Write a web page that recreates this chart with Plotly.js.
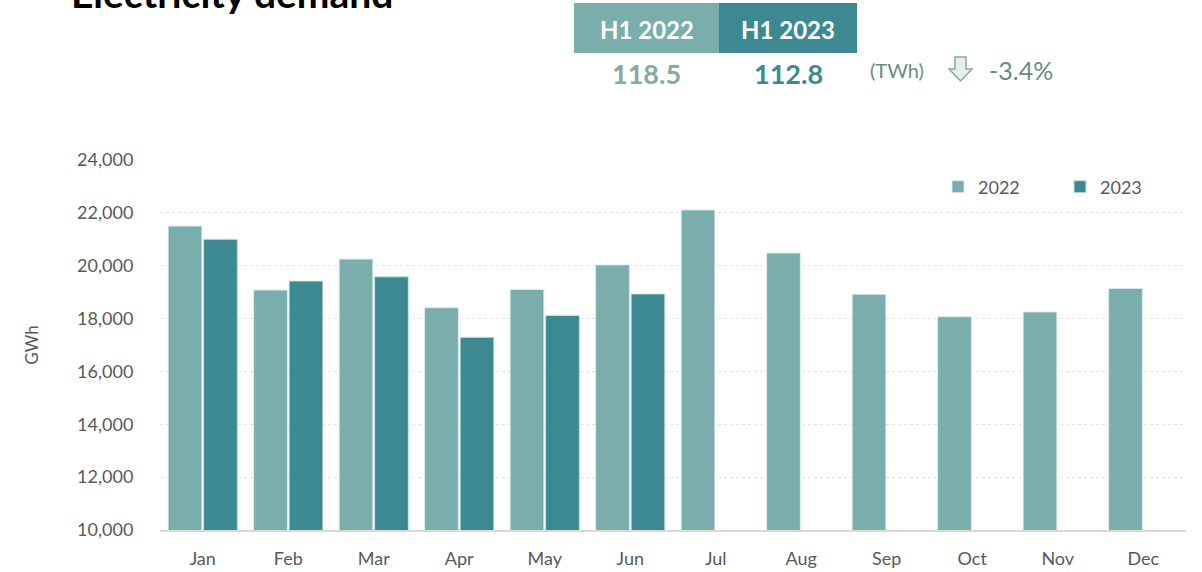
<!DOCTYPE html>
<html>
<head>
<meta charset="utf-8">
<script src="https://cdn.plot.ly/plotly-3.0.1.min.js"></script>
<style>html,body{margin:0;padding:0;background:#fff;}#chart{width:1202px;height:572px;}</style>
</head>
<body>
<div id="chart"></div>
<script>
// ---- data ----
const months = ["Jan","Feb","Mar","Apr","May","Jun","Jul","Aug","Sep","Oct","Nov","Dec"];
const demand2022 = [21500, 19080, 20250, 18410, 19100, 20030, 22110, 20480, 18920, 18070, 18250, 19140];
const demand2023 = [21000, 19420, 19580, 17290, 18120, 18930, null, null, null, null, null, null];
const seriesNames = ["2022", "2023"];
const yTicks = [10000, 12000, 14000, 16000, 18000, 20000, 22000, 24000];
const headerLabels = ["H1 2022", "H1 2023"];
const headerTotals = ["118.5", "112.8"];
const unitLabel = "(TWh)";
const changeLabel = "-3.4%";
const chartTitle = "Electricity demand";

// ---- styles ----
const C22 = "#79AEAD", C23 = "#3C8991";
const FONT = "Lato, 'Open Sans', sans-serif";
const L = 160, T = 160, W = 1026, H = 370;
const px2x = p => (p - L) / W;
const px2y = p => (T + H - p) / H;

const traces = [
  {type: "bar", name: seriesNames[0], x: months, y: demand2022,
   marker: {color: C22, line: {color: "rgba(220,235,234,0.9)", width: 1}}},
  {type: "bar", name: seriesNames[1], x: months, y: demand2023,
   marker: {color: C23, line: {color: "rgba(200,225,226,0.9)", width: 1}}}
];

const shapes = [
  {type: "rect", xref: "paper", yref: "paper", x0: px2x(574), x1: px2x(719), y0: px2y(53), y1: px2y(3),
   fillcolor: C22, line: {width: 0}},
  {type: "rect", xref: "paper", yref: "paper", x0: px2x(719), x1: px2x(857), y0: px2y(53), y1: px2y(3),
   fillcolor: C23, line: {width: 0}},
  // down arrow outline
  {type: "path", xref: "paper", yref: "paper",
   path: (() => {
     const pts = [[955,57],[966,57],[966,69],[972,69],[960.5,81],[949,69],[955,69]];
     return "M" + pts.map(p => px2x(p[0]) + "," + px2y(p[1])).join("L") + "Z";
   })(),
   fillcolor: "#E8EEEC", line: {color: "#8AA89E", width: 1.5}}
];

const annotations = [
  {text: "<b>" + chartTitle + "</b>", xref: "paper", yref: "paper", x: px2x(69), y: px2y(18),
   xanchor: "left", yanchor: "bottom", showarrow: false, font: {family: FONT, size: 39, color: "#000"}},
  {text: "<b>" + headerLabels[0] + "</b>", xref: "paper", yref: "paper", x: px2x(646.5), y: px2y(29),
   xanchor: "center", yanchor: "middle", showarrow: false, font: {family: FONT, size: 24, color: "#fff"}},
  {text: "<b>" + headerLabels[1] + "</b>", xref: "paper", yref: "paper", x: px2x(788), y: px2y(29),
   xanchor: "center", yanchor: "middle", showarrow: false, font: {family: FONT, size: 24, color: "#fff"}},
  {text: "<b>" + headerTotals[0] + "</b>", xref: "paper", yref: "paper", x: px2x(646.5), y: px2y(74),
   xanchor: "center", yanchor: "middle", showarrow: false, font: {family: FONT, size: 27, color: "#8AA89E"}},
  {text: "<b>" + headerTotals[1] + "</b>", xref: "paper", yref: "paper", x: px2x(788), y: px2y(74),
   xanchor: "center", yanchor: "middle", showarrow: false, font: {family: FONT, size: 27, color: C23}},
  {text: unitLabel, xref: "paper", yref: "paper", x: px2x(868), y: px2y(70),
   xanchor: "left", yanchor: "middle", showarrow: false, font: {family: FONT, size: 20, color: "#6B8A85"}},
  {text: changeLabel, xref: "paper", yref: "paper", x: px2x(987), y: px2y(70),
   xanchor: "left", yanchor: "middle", showarrow: false, font: {family: FONT, size: 25, color: "#6B8A85"}}
];

const layout = {
  width: 1202, height: 572,
  margin: {l: L, r: 1202 - L - W, t: T, b: 572 - T - H, pad: 0, autoexpand: false},
  paper_bgcolor: "#fff", plot_bgcolor: "#fff",
  barmode: "group", bargap: 0.17, bargroupgap: 0.05,
  font: {family: FONT, color: "#595959"},
  showlegend: true,
  legend: {orientation: "h", x: px2x(938), y: px2y(187), xanchor: "left", yanchor: "middle",
           entrywidth: 77, entrywidthmode: "pixels", font: {size: 18, color: "#595959"},
           bgcolor: "rgba(0,0,0,0)", traceorder: "normal"},
  xaxis: {type: "category", showgrid: false, zeroline: false, showline: true, linecolor: "#D9D9D9", linewidth: 1.5,
          automargin: false,
          ticks: "outside", ticklen: 12, tickcolor: "rgba(0,0,0,0)", tickfont: {size: 18, color: "#595959"}},
  yaxis: {range: [10000, 24000], tickvals: yTicks, tickformat: ",d", showgrid: true, gridcolor: "#E3E3E3",
          automargin: false,
          griddash: "dot", gridwidth: 1.2, zeroline: false, showline: false,
          ticks: "outside", ticklen: 22, tickcolor: "rgba(0,0,0,0)", tickfont: {size: 18, color: "#595959"},
          title: {text: "GWh", font: {size: 17, color: "#595959"}, standoff: 34}},
  shapes: shapes,
  annotations: annotations
};

Plotly.newPlot("chart", traces, layout, {staticPlot: true, displayModeBar: false});
</script>
</body>
</html>
